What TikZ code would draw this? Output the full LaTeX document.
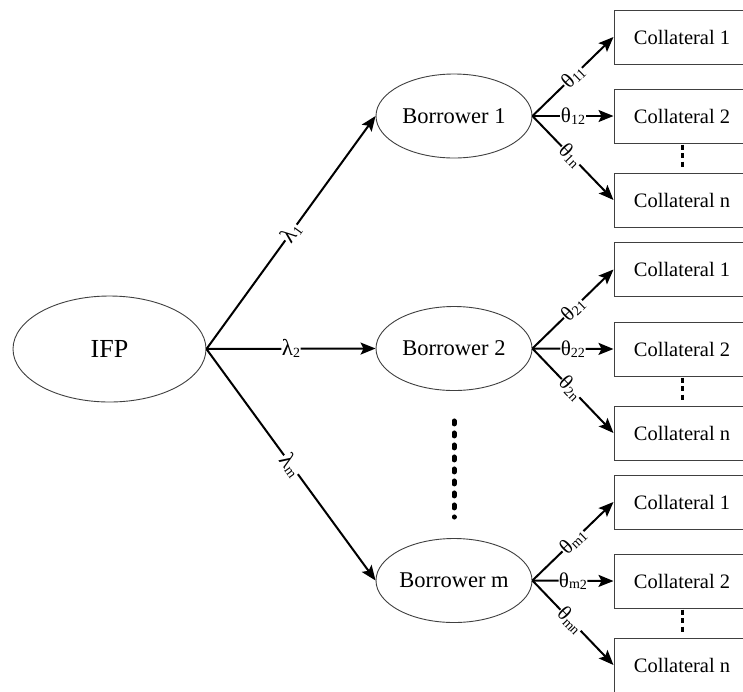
\documentclass[tikz,border=0pt]{standalone}
\usepackage{fontspec}
\setmainfont{Liberation Serif}
\usetikzlibrary{shapes.geometric,arrows.meta}
% Greek weight symbol with a lowered, smaller index
\newcommand{\glab}[3]{{\fontsize{#3}{#3}\selectfont #1}\raisebox{-0.4ex}{\fontsize{14}{14}\selectfont #2}}

\begin{document}
\begin{tikzpicture}[x=1pt,y=-1pt,
  oval/.style={ellipse, draw=black!75, line width=0.9pt, inner sep=0pt, fill=white},
  collbox/.style={rectangle, draw=black!75, line width=1pt, minimum width=136pt,
    minimum height=54pt, inner sep=0pt, fill=white, font=\fontsize{20.5}{24}\selectfont},
  link/.style={line width=2pt, -{Stealth[length=15pt,width=12pt,inset=3pt]}},
  wlab/.style={fill=white, inner sep=0.5pt, sloped},
  bigdots/.style={line width=5pt, line cap=round, dash pattern=on 3pt off 9pt},
  smalldots/.style={line width=3pt, dash pattern=on 5pt off 3.5pt}]
\useasboundingbox (0,0) rectangle (743,691);
\fill[white] (0,0) rectangle (743,691);
\clip (0,0) rectangle (743,691);

% root
\node[oval, minimum width=193pt, minimum height=106pt, font=\fontsize{26}{30}\selectfont] (ifp) at (109.5,349) {IFP};

% borrowers
\foreach \n/\y/\t in {b1/116/Borrower 1, b2/348.5/Borrower 2, bm/580.5/Borrower m}
  \node[oval, minimum width=156pt, minimum height=84pt, font=\fontsize{22.5}{27}\selectfont] (\n) at (454,\y) {\t};

% collaterals
\node[collbox] (c11) at (682,37) {Collateral 1};
\node[collbox] (c12) at (682,116) {Collateral 2};
\node[collbox] (c1n) at (682,200) {Collateral n};
\node[collbox] (c21) at (682,269.5) {Collateral 1};
\node[collbox] (c22) at (682,349) {Collateral 2};
\node[collbox] (c2n) at (682,433) {Collateral n};
\node[collbox] (cm1) at (682,502) {Collateral 1};
\node[collbox] (cm2) at (682,581) {Collateral 2};
\node[collbox] (cmn) at (682,665) {Collateral n};

% IFP to borrowers
\draw[link] (ifp.east) -- node[wlab]{\glab{λ}{1}{23}} (b1.west);
\draw[link] (ifp.east) -- node[wlab]{\glab{λ}{2}{23}} (b2.west);
\draw[link] (ifp.east) -- node[wlab]{\glab{λ}{m}{23}} (bm.west);

% borrowers to collaterals
\draw[link] (b1.east) -- node[wlab]{\glab{θ}{11}{21}} (c11.west);
\draw[link] (b1.east) -- node[wlab]{\glab{θ}{12}{21}} (c12.west);
\draw[link] (b1.east) -- node[wlab, pos=0.47]{\glab{θ}{1n}{21}} (c1n.west);
\draw[link] (b2.east) -- node[wlab]{\glab{θ}{21}{21}} (c21.west);
\draw[link] (b2.east) -- node[wlab]{\glab{θ}{22}{21}} (c22.west);
\draw[link] (b2.east) -- node[wlab, pos=0.47]{\glab{θ}{2n}{21}} (c2n.west);
\draw[link] (bm.east) -- node[wlab]{\glab{θ}{m1}{21}} (cm1.west);
\draw[link] (bm.east) -- node[wlab]{\glab{θ}{m2}{21}} (cm2.west);
\draw[link] (bm.east) -- node[wlab, pos=0.47]{\glab{θ}{mn}{21}} (cmn.west);

% ellipses
\draw[bigdots] ([yshift=-30pt]b2.south) -- ([yshift=21pt]bm.north);
\draw[smalldots] ([yshift=-1pt]c12.south) -- ([yshift=5pt]c1n.north);
\draw[smalldots] ([yshift=-1pt]c22.south) -- ([yshift=5pt]c2n.north);
\draw[smalldots] ([yshift=-1pt]cm2.south) -- ([yshift=5pt]cmn.north);
\end{tikzpicture}
\end{document}
